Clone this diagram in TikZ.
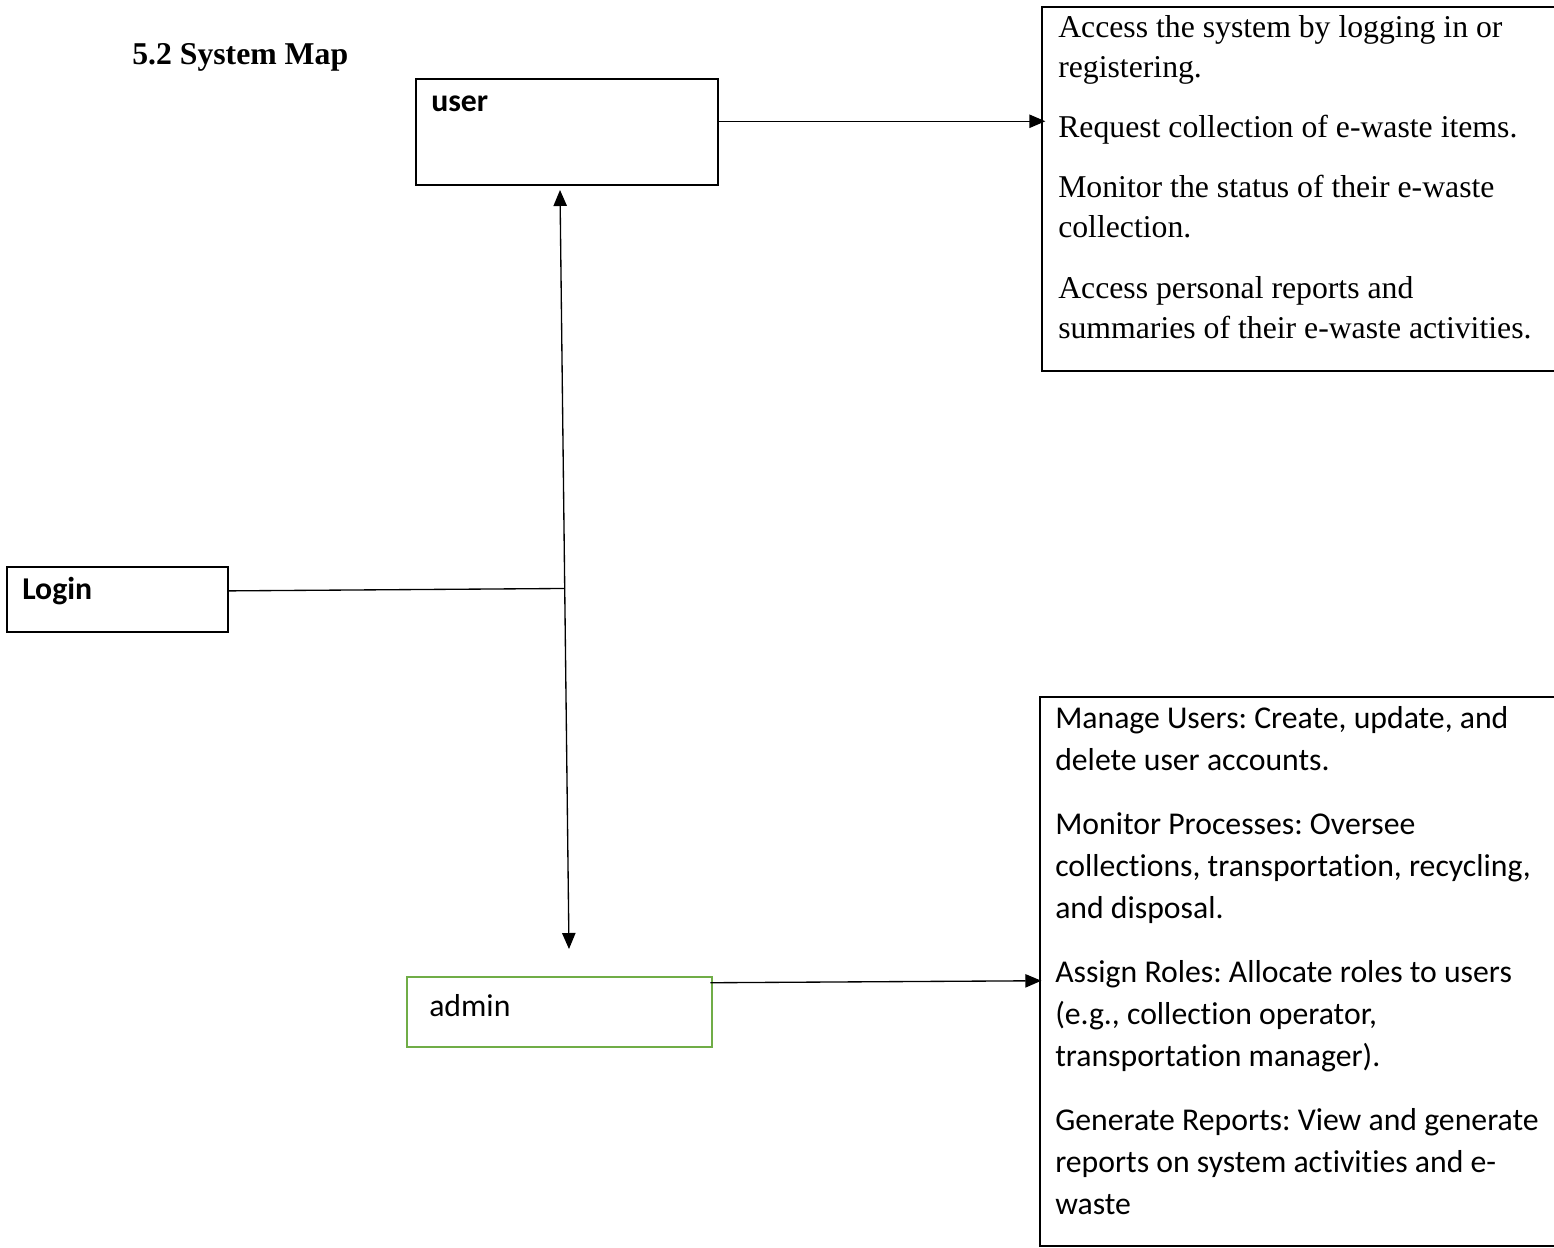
\documentclass[tikz,border=0pt]{standalone}
\usepackage{fontspec}
\setmainfont{Liberation Serif}
\newfontfamily\calibfont[Ligatures=NoCommon]{Carlito}
\usetikzlibrary{arrows.meta,calc}
\frenchspacing

\begin{document}
\begin{tikzpicture}[x=0.75pt,y=-0.75pt,
  pxbox/.style 2 args={draw=black, line width=1pt, inner sep=0pt,
    minimum width=#1*0.75pt, minimum height=#2*0.75pt},
  adminbox/.style 2 args={pxbox={#1}{#2}, draw={rgb,255:red,112;green,173;blue,71}, line width=1.9pt},
  serifbody/.style={font=\fontsize{23.8pt}{30pt}\selectfont, align=left, inner sep=0pt, anchor=north west},
  sansbody/.style={font=\calibfont\fontsize{23.8pt}{31.5pt}\selectfont, align=left, inner sep=0pt, anchor=north west},
  sanslabel/.style={font=\calibfont\fontsize{23.8pt}{28pt}\selectfont, inner sep=0pt, anchor=base west},
  boldlabel/.style={sanslabel, font=\calibfont\fontsize{23.8pt}{28pt}\selectfont\bfseries},
  conn/.style={draw=black, line width=1pt},
  tip/.tip={Triangle[length=12pt,width=10pt]}]

\useasboundingbox (0,0) rectangle (1554,1247);
\fill[white] (0,0) rectangle (1554,1247);
\clip (0,0) rectangle (1554,1247);

% heading
\node[anchor=base west, inner sep=0pt, font=\fontsize{23.8pt}{28pt}\selectfont\bfseries]
  (title) at (132,64) {5.2 System Map};

% boxes
\node[pxbox={302}{106}] (user) at (567,132) {};
\node[pxbox={221}{65}] (login) at (117.5,599.5) {};
\node[adminbox={305}{70}] (admin) at (559.5,1012) {};
\node[pxbox={528}{364}] (ubox) at (1306,189) {};
\node[pxbox={530}{549}] (abox) at (1305,971.5) {};

% box labels
\node[boldlabel] (userlbl) at (431,111) {user};
\node[boldlabel] (loginlbl) at (22,599) {Login};
\node[sanslabel] (adminlbl) at (429,1016) {admin};

% user functions
\node[serifbody] (utext) at (1058,10.3) {\rule{0pt}{20pt}Access the system by logging in or\\
  registering.\\[15.5pt]
  Request collection of e-waste items.\\[15pt]
  Monitor the status of their e-waste\\
  collection.\\[15.5pt]
  Access personal reports and\\
  summaries of their e-waste activities.};

% admin functions
\node[sansbody] (atext) at (1055,701.3) {\rule{0pt}{20pt}Manage Users: Create, update, and\\
  delete user accounts.\\[16.5pt]
  Monitor Processes: Oversee\\
  collections, transportation, recycling,\\
  and disposal.\\[16.5pt]
  Assign Roles: Allocate roles to users\\
  (e.g., collection operator,\\
  transportation manager).\\[16.5pt]
  Generate Reports: View and generate\\
  reports on system activities and e-\\
  waste};

% connectors
\coordinate (uout) at ($(user.north east)!0.4!(user.south east)$);
\draw[conn, -{tip}] (uout) -- ($(uout -| ubox.west)+(4,0)$);

\coordinate (aout) at ($(admin.north east)+(-3,7)$);
\draw[conn, -{tip}] (aout) -- ($(abox.west |- aout)+(2,-2)$);

\coordinate (utip) at (560,190);
\coordinate (atip) at (569,949);
\draw[conn, {tip}-{tip}] (utip) -- (atip);

\coordinate (join) at ($(utip)!0.525!(atip)$);
\draw[conn] ($(login.north east)!0.37!(login.south east)$) -- (join);

\end{tikzpicture}
\end{document}
